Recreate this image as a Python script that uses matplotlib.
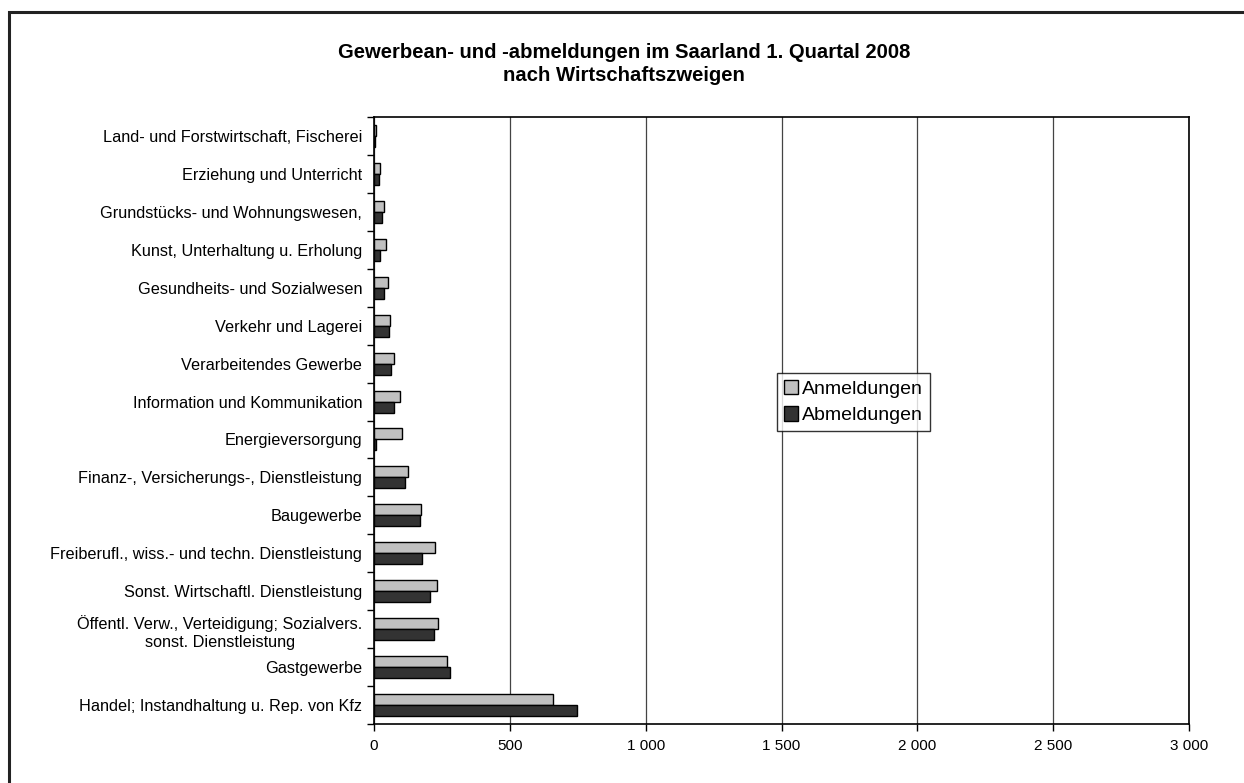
import matplotlib.pyplot as plt
import matplotlib.patches as mpatches
import numpy as np

plt.rcParams['font.family'] = ['Liberation Sans', 'DejaVu Sans']

categories = [
    'Land- und Forstwirtschaft, Fischerei',
    'Erziehung und Unterricht',
    'Grundstücks- und Wohnungswesen,',
    'Kunst, Unterhaltung u. Erholung',
    'Gesundheits- und Sozialwesen',
    'Verkehr und Lagerei',
    'Verarbeitendes Gewerbe',
    'Information und Kommunikation',
    'Energieversorgung',
    'Finanz-, Versicherungs-, Dienstleistung',
    'Baugewerbe',
    'Freiberufl., wiss.- und techn. Dienstleistung',
    'Sonst. Wirtschaftl. Dienstleistung',
    'Öffentl. Verw., Verteidigung; Sozialvers.\nsonst. Dienstleistung',
    'Gastgewerbe',
    'Handel; Instandhaltung u. Rep. von Kfz',
]
anmeldungen = [8, 21, 35, 45, 50, 59, 74, 96, 103, 125, 174, 223, 232, 236, 268, 660]
abmeldungen = [4, 20, 30, 22, 37, 55, 64, 72, 6, 115, 169, 178, 205, 222, 281, 749]
xticks = [0, 500, 1000, 1500, 2000, 2500, 3000]
xticklabels = ['0', '500', '1 000', '1 500', '2 000', '2 500', '3 000']

W, H = 1244, 783
fig = plt.figure(figsize=(W / 100, H / 100), dpi=100)
ax = fig.add_axes([374 / W, 1 - 724 / H, (1189 - 374) / W, (724 - 117) / H])

# outer chart border (only top/left visible in the frame)
fig.patches.append(mpatches.Rectangle((9 / W, -0.05), 1.1, 1 - 12.5 / H + 0.05,
                                      transform=fig.transFigure, fill=False,
                                      edgecolor='#222222', linewidth=2.2))

y = np.arange(len(categories))
h = 0.29
ax.barh(y - h / 2, anmeldungen, height=h, color='#C0C0C0', edgecolor='black',
        linewidth=1, label='Anmeldungen', zorder=3)
ax.barh(y + h / 2, abmeldungen, height=h, color='#333333', edgecolor='black',
        linewidth=1, label='Abmeldungen', zorder=3)

ax.set_xlim(0, 3000)
ax.set_ylim(len(categories) - 0.5, -0.5)
ax.set_xticks(xticks)
ax.set_xticklabels(xticklabels, fontsize=11)
ax.set_yticks(y)
ax.set_yticklabels(categories, fontsize=11.7, multialignment='center', linespacing=1.3)
ax.set_yticks(np.arange(len(categories) + 1) - 0.5, minor=True)
ax.tick_params(axis='y', which='major', length=0, pad=8.5)
ax.tick_params(axis='y', which='minor', length=5, width=1, direction='out')
ax.tick_params(axis='x', which='major', length=5, width=1, direction='out', pad=6)
ax.grid(axis='x', color='#444444', linewidth=0.9, zorder=0)
for s in ax.spines.values():
    s.set_color('black')
    s.set_linewidth(1.2)

fig.text(0.5015, 1 - 64 / H, 'Gewerbean- und -abmeldungen im Saarland 1. Quartal 2008\nnach Wirtschaftszweigen',
         ha='center', va='center', fontsize=14.6, fontweight='bold', linespacing=1.3)

leg = ax.legend(loc='center left', bbox_to_anchor=((777 - 374) / 815, (724 - 402) / 607),
                fontsize=14, frameon=True, fancybox=False, edgecolor='black',
                handlelength=0.75, handleheight=0.75, handletextpad=0.2,
                borderpad=0.35, labelspacing=0.45, borderaxespad=0)
leg.get_frame().set_linewidth(1)

fig.savefig('out.png', dpi=100)
